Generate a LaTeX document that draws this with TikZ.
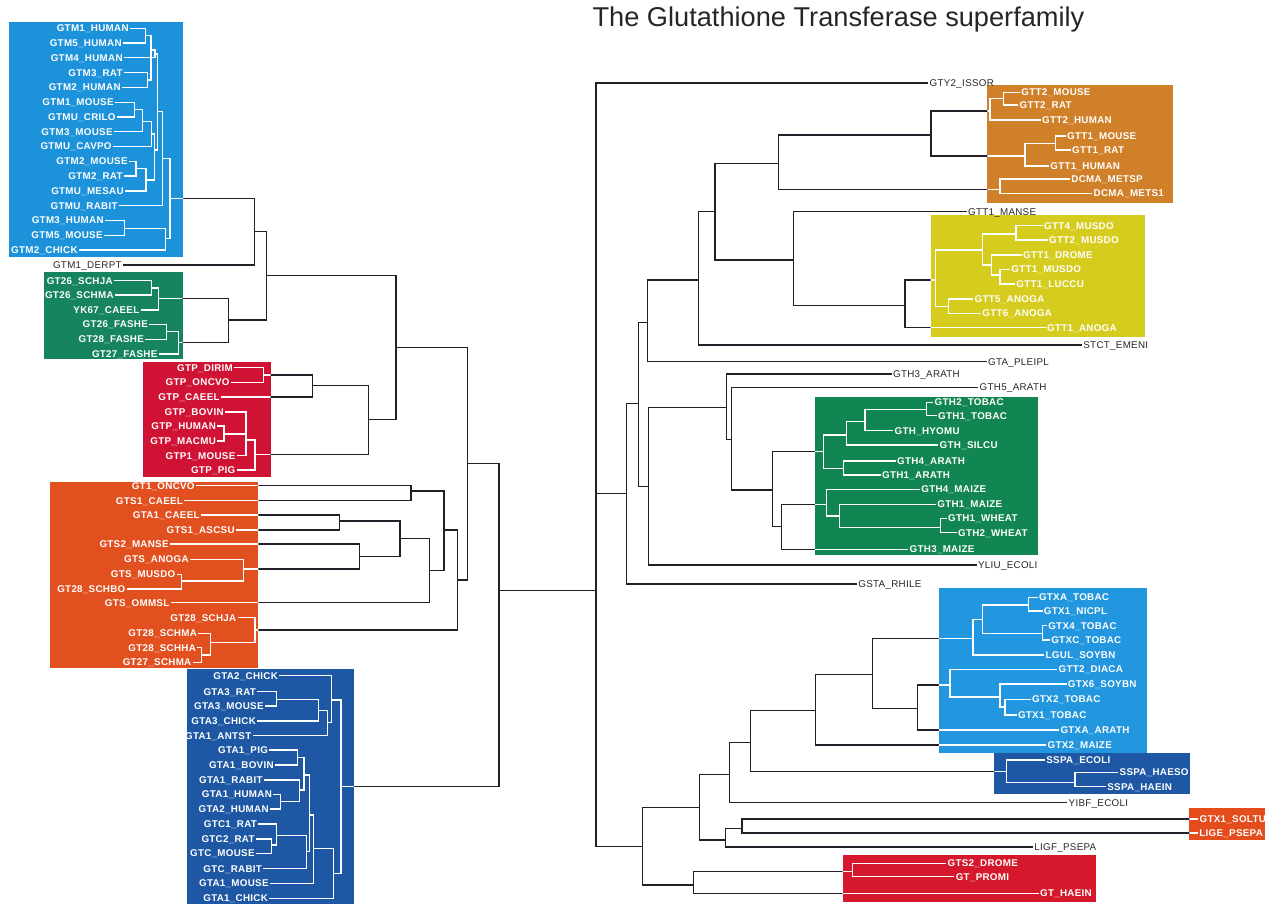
\documentclass[tikz,border=0pt]{standalone}
\usepackage{fontspec}
\setmainfont{Liberation Sans}
\newfontfamily\lblfont{Liberation Sans}[LetterSpace=3]
\definecolor{cGTM}{RGB}{28,146,218}
\definecolor{cGsix}{RGB}{22,132,92}
\definecolor{cGTP}{RGB}{208,18,52}
\definecolor{cGTS}{RGB}{226,80,32}
\definecolor{cGTA}{RGB}{30,88,164}
\definecolor{cGTT}{RGB}{208,128,40}
\definecolor{cYel}{RGB}{214,204,30}
\definecolor{cGTH}{RGB}{18,134,82}
\definecolor{cGTX}{RGB}{34,150,222}
\definecolor{cSSP}{RGB}{30,88,164}
\definecolor{cSOL}{RGB}{228,76,28}
\definecolor{cRed}{RGB}{214,24,44}
\definecolor{linec}{RGB}{35,30,40}
\newcommand\leafl[5]{\node[#1,anchor=east] (#2) at (#3,#4) {#5};}
\newcommand\leafr[5]{\node[#1,anchor=west] (#2) at (#3,#4) {#5};}
\newcommand\cpt[3]{\coordinate (#1) at (#2,#3);}
\newcommand\E[2]{\path[edge] (#1) |- (#2);}
\tikzset{
 lblw/.style={font=\lblfont\bfseries\fontsize{9.8}{11}\selectfont, text=white, inner xsep=1.2pt, inner ysep=0pt, text height=7pt, text depth=0pt},
 lblb/.style={font=\lblfont\fontsize{9.8}{11}\selectfont, text=black!85, inner xsep=1.2pt, inner ysep=0pt, text height=7pt, text depth=0pt},
}
\begin{document}
\begin{tikzpicture}[x=1pt,y=-1pt]
\useasboundingbox (0,0) rectangle (1273,904);
% boxes
\fill[cGTM] (9,22) rectangle (183,257);
\fill[cGsix] (44,271.7) rectangle (182.7,359);
\fill[cGTP] (143.3,361.7) rectangle (270.5,477);
\fill[cGTS] (50,481.7) rectangle (258.3,668.3);
\fill[cGTA] (187.3,669.3) rectangle (354,904);
\fill[cGTT] (987.3,85) rectangle (1173.3,202.7);
\fill[cYel] (930.7,215) rectangle (1145,336.7);
\fill[cGTH] (815,396.7) rectangle (1038.3,555);
\fill[cGTX] (938.9,588.3) rectangle (1147.2,752.7);
\fill[cSSP] (994.4,752.7) rectangle (1190,794);
\fill[cSOL] (1189.3,808.3) rectangle (1265,840);
\fill[cRed] (842.7,855) rectangle (1096,902);
% title
\node[font=\fontsize{27.2}{31}\selectfont, text=black!85, anchor=west] (title) at (589,19) {The Glutathione Transferase superfamily};
% ---------- left leaves
\leafl{lblw}{M1}{130}{28.3}{GTM1\_HUMAN}
\leafl{lblw}{M2}{123}{43.1}{GTM5\_HUMAN}
\leafl{lblw}{M3}{124}{57.9}{GTM4\_HUMAN}
\leafl{lblw}{M4}{124}{72.6}{GTM3\_RAT}
\leafl{lblw}{M5}{122}{87.4}{GTM2\_HUMAN}
\leafl{lblw}{M6}{115}{102.2}{GTM1\_MOUSE}
\leafl{lblw}{M7}{117}{117}{GTMU\_CRILO}
\leafl{lblw}{M8}{114}{131.8}{GTM3\_MOUSE}
\leafl{lblw}{M9}{113}{146.5}{GTMU\_CAVPO}
\leafl{lblw}{M10}{129}{161.3}{GTM2\_MOUSE}
\leafl{lblw}{M11}{124}{176.1}{GTM2\_RAT}
\leafl{lblw}{M12}{125}{190.9}{GTMU\_MESAU}
\leafl{lblw}{M13}{119}{205.6}{GTMU\_RABIT}
\leafl{lblw}{M14}{105}{220.4}{GTM3\_HUMAN}
\leafl{lblw}{M15}{104}{235.2}{GTM5\_MOUSE}
\leafl{lblw}{M16}{79}{250}{GTM2\_CHICK}
\leafl{lblb}{derpt}{123}{265}{GTM1\_DERPT}
\leafl{lblw}{ga}{114}{280.7}{GT26\_SCHJA}
\leafl{lblw}{gb}{115}{295}{GT26\_SCHMA}
\leafl{lblw}{gc}{140.7}{310}{YK67\_CAEEL}
\leafl{lblw}{gd}{149.3}{324.3}{GT26\_FASHE}
\leafl{lblw}{ge}{145.3}{339.3}{GT28\_FASHE}
\leafl{lblw}{gf}{158.7}{354}{GT27\_FASHE}
\leafl{lblw}{pa}{234.3}{367.7}{GTP\_DIRIM}
\leafl{lblw}{pb}{231}{382.3}{GTP\_ONCVO}
\leafl{lblw}{pc}{221}{397}{GTP\_CAEEL}
\leafl{lblw}{pd}{225}{412}{GTP\_BOVIN}
\leafl{lblw}{pe}{217.3}{426}{GTP\_HUMAN}
\leafl{lblw}{pf}{217.3}{441}{GTP\_MACMU}
\leafl{lblw}{pg}{236.7}{455.7}{GTP1\_MOUSE}
\leafl{lblw}{ph}{236.7}{470}{GTP\_PIG}
\leafl{lblw}{s1}{196}{485.7}{GT1\_ONCVO}
\leafl{lblw}{s2}{184.3}{500.7}{GTS1\_CAEEL}
\leafl{lblw}{s3}{201}{515}{GTA1\_CAEEL}
\leafl{lblw}{s4}{236}{530}{GTS1\_ASCSU}
\leafl{lblw}{s5}{170}{544}{GTS2\_MANSE}
\leafl{lblw}{s6}{190}{559.3}{GTS\_ANOGA}
\leafl{lblw}{s7}{176.7}{574.3}{GTS\_MUSDO}
\leafl{lblw}{s8}{126.7}{589}{GT28\_SCHBO}
\leafl{lblw}{s9}{170.7}{602.5}{GTS\_OMMSL}
\leafl{lblw}{s10}{237.7}{617.7}{GT28\_SCHJA}
\leafl{lblw}{s11}{198.3}{633.3}{GT28\_SCHMA}
\leafl{lblw}{s12}{197.3}{647.7}{GT28\_SCHHA}
\leafl{lblw}{s13}{192.7}{662.3}{GT27\_SCHMA}
\leafl{lblw}{aa1}{279.3}{675.7}{GTA2\_CHICK}
\leafl{lblw}{aa2}{257.3}{691.7}{GTA3\_RAT}
\leafl{lblw}{aa3}{265}{706}{GTA3\_MOUSE}
\leafl{lblw}{aa4}{257.3}{721}{GTA3\_CHICK}
\leafl{lblw}{aa5}{252.7}{735.7}{GTA1\_ANTST}
\leafl{lblw}{aa6}{269.3}{750}{GTA1\_PIG}
\leafl{lblw}{aa7}{275}{765}{GTA1\_BOVIN}
\leafl{lblw}{aa8}{264}{780}{GTA1\_RABIT}
\leafl{lblw}{aa9}{273.3}{794.3}{GTA1\_HUMAN}
\leafl{lblw}{aa10}{270}{809}{GTA2\_HUMAN}
\leafl{lblw}{aa11}{258.3}{824}{GTC1\_RAT}
\leafl{lblw}{aa12}{256}{839}{GTC2\_RAT}
\leafl{lblw}{aa13}{256}{853.3}{GTC\_MOUSE}
\leafl{lblw}{aa14}{263.3}{868.7}{GTC\_RABIT}
\leafl{lblw}{aa15}{270}{883.3}{GTA1\_MOUSE}
\leafl{lblw}{aa16}{269.3}{898.3}{GTA1\_CHICK}
% ---------- right leaves
\leafr{lblb}{issor}{928.3}{83}{GTY2\_ISSOR}
\leafr{lblw}{T1}{1020}{92.3}{GTT2\_MOUSE}
\leafr{lblw}{T2}{1018.3}{105}{GTT2\_RAT}
\leafr{lblw}{T3}{1040.7}{120}{GTT2\_HUMAN}
\leafr{lblw}{T4}{1065.7}{136}{GTT1\_MOUSE}
\leafr{lblw}{T5}{1070.7}{150}{GTT1\_RAT}
\leafr{lblw}{T6}{1049}{166}{GTT1\_HUMAN}
\leafr{lblw}{T7}{1070}{179}{DCMA\_METSP}
\leafr{lblw}{T8}{1092.3}{193.3}{DCMA\_METS1}
\leafr{lblb}{manse}{966.7}{211.7}{GTT1\_MANSE}
\leafr{lblw}{Y1}{1042.7}{225.7}{GTT4\_MUSDO}
\leafr{lblw}{Y2}{1047.7}{240}{GTT2\_MUSDO}
\leafr{lblw}{Y3}{1021.7}{255}{GTT1\_DROME}
\leafr{lblw}{Y4}{1010}{269.3}{GTT1\_MUSDO}
\leafr{lblw}{Y5}{1015}{284}{GTT1\_LUCCU}
\leafr{lblw}{Y6}{973.3}{299}{GTT5\_ANOGA}
\leafr{lblw}{Y7}{981}{313.3}{GTT6\_ANOGA}
\leafr{lblw}{Y8}{1045.7}{327.7}{GTT1\_ANOGA}
\leafr{lblb}{stct}{1082}{345}{STCT\_EMENI}
\leafr{lblb}{pleipl}{986.7}{361.7}{GTA\_PLEIPL}
\leafr{lblb}{gththree}{891.7}{374}{GTH3\_ARATH}
\leafr{lblb}{gthfive}{978.3}{387.3}{GTH5\_ARATH}
\leafr{lblw}{H1}{933.3}{402.3}{GTH2\_TOBAC}
\leafr{lblw}{H2}{936.7}{415.7}{GTH1\_TOBAC}
\leafr{lblw}{H3}{893.3}{430.7}{GTH\_HYOMU}
\leafr{lblw}{H4}{938.3}{445}{GTH\_SILCU}
\leafr{lblw}{H5}{895.7}{461}{GTH4\_ARATH}
\leafr{lblw}{H6}{880.7}{475}{GTH1\_ARATH}
\leafr{lblw}{H7}{920}{489.3}{GTH4\_MAIZE}
\leafr{lblw}{H8}{936}{504.3}{GTH1\_MAIZE}
\leafr{lblw}{H9}{946.7}{518.3}{GTH1\_WHEAT}
\leafr{lblw}{H10}{956.7}{532.7}{GTH2\_WHEAT}
\leafr{lblw}{H11}{908.3}{549.3}{GTH3\_MAIZE}
\leafr{lblb}{yliu}{976.7}{565}{YLIU\_ECOLI}
\leafr{lblb}{gsta}{857}{584}{GSTA\_RHILE}
\leafr{lblw}{X1}{1037.6}{597.3}{GTXA\_TOBAC}
\leafr{lblw}{X2}{1042.5}{611}{GTX1\_NICPL}
\leafr{lblw}{X3}{1046.9}{625.7}{GTX4\_TOBAC}
\leafr{lblw}{X4}{1049.9}{640}{GTXC\_TOBAC}
\leafr{lblw}{X5}{1044.3}{655}{LGUL\_SOYBN}
\leafr{lblw}{X6}{1057.3}{669.3}{GTT2\_DIACA}
\leafr{lblw}{X7}{1066.5}{684}{GTX6\_SOYBN}
\leafr{lblw}{X8}{1030.6}{699.3}{GTX2\_TOBAC}
\leafr{lblw}{X9}{1016.6}{715}{GTX1\_TOBAC}
\leafr{lblw}{X10}{1059.1}{730}{GTXA\_ARATH}
\leafr{lblw}{X11}{1046.2}{745}{GTX2\_MAIZE}
\leafr{lblw}{S1}{1045}{760}{SSPA\_ECOLI}
\leafr{lblw}{S2}{1118.3}{772.3}{SSPA\_HAESO}
\leafr{lblw}{S3}{1106}{786.7}{SSPA\_HAEIN}
\leafr{lblb}{yibf}{1067.3}{802.5}{YIBF\_ECOLI}
\leafr{lblw}{soltu}{1198.3}{819}{GTX1\_SOLTU}
\leafr{lblw}{lige}{1198}{833}{LIGE\_PSEPA}
\leafr{lblb}{ligf}{1033}{847}{LIGF\_PSEPA}
\leafr{lblw}{D1}{946.3}{863.3}{GTS2\_DROME}
\leafr{lblw}{D2}{954.4}{876.7}{GT\_PROMI}
\leafr{lblw}{D3}{1038.7}{893.3}{GT\_HAEIN}
% ---------- internal points, left
\cpt{nMa}{145.5}{35.7}\cpt{nMb}{147.5}{80}\cpt{nMc}{151}{50}\cpt{nMd}{155}{54}
\cpt{nMe}{134.3}{109.3}\cpt{nMf}{142.7}{121.7}\cpt{nMg}{151.7}{134}
\cpt{nMh}{136}{168.7}\cpt{nMi}{146}{180}\cpt{nMj}{154.3}{150}
\cpt{nMk}{157.5}{111.7}\cpt{nMl}{162.3}{158.3}\cpt{nMm}{124.3}{228.3}
\cpt{nMn}{165.7}{238.3}\cpt{nMo}{170}{198.3}
\cpt{La}{254.3}{231.7}
\cpt{Ga}{151.7}{288}\cpt{Gb}{158.3}{298.3}\cpt{Gc}{166.7}{331.7}\cpt{Gd}{178.3}{342.3}\cpt{Ge}{228.3}{320}
\cpt{Lb}{266.7}{275.7}
\cpt{Pa}{263.3}{375}\cpt{Pb}{312.7}{385.7}\cpt{Pc}{224}{434}\cpt{Pd}{246}{440}\cpt{Pe}{255}{454.3}\cpt{Pf}{368.3}{419.3}
\cpt{Lc}{396}{347.3}
\cpt{Oa}{411}{491}\cpt{Ob}{339.3}{521}\cpt{Od}{181.7}{581}\cpt{Oe}{243.3}{569}\cpt{Oc}{359.3}{556.7}
\cpt{Of}{400}{538.3}\cpt{Og}{429.3}{570.7}\cpt{Oh}{444}{530}
\cpt{Oi}{201.7}{655}\cpt{Oj}{210.7}{642.7}\cpt{Ok}{255}{630}\cpt{Ol}{457.3}{580}
\cpt{Ld}{467.3}{463.3}
\cpt{Aa}{276.7}{699.3}\cpt{Ab}{318.3}{710.3}\cpt{Ac}{327.3}{722.7}\cpt{Ad}{331.7}{700}
\cpt{Ae}{297.3}{757.3}\cpt{Af}{280.7}{801.7}\cpt{Ag}{299.7}{790}\cpt{Ah}{304}{775}
\cpt{Aia}{271.7}{845}\cpt{Ai}{276.7}{835.7}\cpt{Aj}{306.7}{851.7}\cpt{Ak}{309.3}{815}
\cpt{Al}{313.3}{848.3}\cpt{Am}{333.3}{873.3}\cpt{AR}{341}{786.7}
\cpt{Le}{499}{590.7}
\cpt{root}{596}{590.7}
% ---------- internal points, right
\cpt{Ta}{1003.3}{98.3}\cpt{Tb}{990}{111}\cpt{Tc}{1055.7}{143.3}\cpt{Td}{1025}{156}
\cpt{Rf}{931}{135}\cpt{Te}{1000}{189.3}\cpt{Re}{778.3}{163.3}
\cpt{Ya}{1016}{234}\cpt{Yb}{1000}{275}\cpt{Yc}{991.7}{265}\cpt{Yd}{982.7}{250}
\cpt{Ye}{948.3}{306.7}\cpt{Yf}{935.7}{280}\cpt{Rg}{905}{305.7}
\cpt{Rm}{793.3}{260}\cpt{Rd}{715}{211.7}\cpt{Rc}{698.3}{280}\cpt{Rb}{647.3}{322.3}
\cpt{Ha}{926.7}{409.3}\cpt{Hb}{865}{421.7}\cpt{Hc}{846.7}{435}\cpt{Hd}{843.3}{468.3}
\cpt{He}{823.3}{451.7}\cpt{Hf}{940.7}{527.7}\cpt{Hg}{839.3}{516}\cpt{Hh}{826.7}{504.3}
\cpt{Rl}{781.7}{526.7}\cpt{Rk}{772.7}{490}\cpt{Rj}{731.7}{439.3}\cpt{Ri}{726.7}{407.7}
\cpt{Rh}{648.3}{486.7}\cpt{Ra}{638.3}{403.3}\cpt{Rmid}{626.7}{493.3}
\cpt{Xa}{1028.4}{605}\cpt{Xb}{1042.5}{633.3}\cpt{Xc}{982.2}{619.3}\cpt{Xd}{972.9}{638.3}
\cpt{Xe}{1005}{707}\cpt{Xf}{1000}{697}\cpt{Xg}{950}{685}\cpt{Xh}{917.4}{708.3}
\cpt{Xi}{872.3}{674.3}\cpt{Xj}{815.7}{710.7}
\cpt{Sa}{1075}{782.7}\cpt{Sb}{1006.7}{771.7}
\cpt{Qc}{750.9}{742.3}\cpt{Qb}{729.9}{774.3}\cpt{Qf}{742}{828.3}\cpt{Qe}{725.4}{840}\cpt{Qa}{699.1}{807.7}
\cpt{Da}{852.7}{871.7}\cpt{Db}{693.6}{885}\cpt{Rbot}{642.9}{846.7}
% ---------- edges
\def\alledges{%
\E{nMa}{M1}\E{nMa}{M2}\E{nMb}{M4}\E{nMb}{M5}\E{nMc}{nMa}\E{nMc}{nMb}\E{nMd}{nMc}\E{nMd}{M3}
\E{nMe}{M6}\E{nMe}{M7}\E{nMf}{nMe}\E{nMf}{M8}\E{nMg}{nMf}\E{nMg}{M9}
\E{nMh}{M10}\E{nMh}{M11}\E{nMi}{nMh}\E{nMi}{M12}\E{nMj}{nMg}\E{nMj}{nMi}
\E{nMk}{nMd}\E{nMk}{nMj}\E{nMl}{nMk}\E{nMl}{M13}\E{nMm}{M14}\E{nMm}{M15}
\E{nMn}{nMm}\E{nMn}{M16}\E{nMo}{nMl}\E{nMo}{nMn}
\E{La}{nMo}\E{La}{derpt}
\E{Ga}{ga}\E{Ga}{gb}\E{Gb}{Ga}\E{Gb}{gc}\E{Gc}{gd}\E{Gc}{ge}\E{Gd}{Gc}\E{Gd}{gf}\E{Ge}{Gb}\E{Ge}{Gd}
\E{Lb}{La}\E{Lb}{Ge}
\E{Pa}{pa}\E{Pa}{pb}\E{Pb}{Pa}\E{Pb}{pc}\E{Pc}{pe}\E{Pc}{pf}\E{Pd}{pd}\E{Pd}{Pc}\E{Pd}{pg}
\E{Pe}{Pd}\E{Pe}{ph}\E{Pf}{Pb}\E{Pf}{Pe}
\E{Lc}{Lb}\E{Lc}{Pf}
\E{Oa}{s1}\E{Oa}{s2}\E{Ob}{s3}\E{Ob}{s4}\E{Od}{s7}\E{Od}{s8}\E{Oe}{s6}\E{Oe}{Od}
\E{Oc}{s5}\E{Oc}{Oe}\E{Of}{Ob}\E{Of}{Oc}\E{Og}{Of}\E{Og}{s9}\E{Oh}{Oa}\E{Oh}{Og}
\E{Oi}{s12}\E{Oi}{s13}\E{Oj}{s11}\E{Oj}{Oi}\E{Ok}{s10}\E{Ok}{Oj}\E{Ol}{Oh}\E{Ol}{Ok}
\E{Ld}{Lc}\E{Ld}{Ol}
\E{Aa}{aa2}\E{Aa}{aa3}\E{Ab}{Aa}\E{Ab}{aa4}\E{Ac}{Ab}\E{Ac}{aa5}\E{Ad}{aa1}\E{Ad}{Ac}
\E{Ae}{aa6}\E{Ae}{aa7}\E{Af}{aa9}\E{Af}{aa10}\E{Ag}{aa8}\E{Ag}{Af}\E{Ah}{Ae}\E{Ah}{Ag}
\E{Aia}{aa12}\E{Aia}{aa13}\E{Ai}{aa11}\E{Ai}{Aia}\E{Aj}{Ai}\E{Aj}{aa14}\E{Ak}{Ah}\E{Ak}{Aj}
\E{Al}{Ak}\E{Al}{aa15}\E{Am}{Al}\E{Am}{aa16}\E{AR}{Ad}\E{AR}{Am}
\E{Le}{Ld}\E{Le}{AR}
\E{root}{Le}\E{root}{issor}\E{root}{Rmid}\E{root}{Rbot}
\E{Ta}{T1}\E{Ta}{T2}\E{Tb}{Ta}\E{Tb}{T3}\E{Tc}{T4}\E{Tc}{T5}\E{Td}{Tc}\E{Td}{T6}
\E{Rf}{Tb}\E{Rf}{Td}\E{Te}{T7}\E{Te}{T8}\E{Re}{Rf}\E{Re}{Te}
\E{Ya}{Y1}\E{Ya}{Y2}\E{Yb}{Y4}\E{Yb}{Y5}\E{Yc}{Y3}\E{Yc}{Yb}\E{Yd}{Ya}\E{Yd}{Yc}
\E{Ye}{Y6}\E{Ye}{Y7}\E{Yf}{Yd}\E{Yf}{Ye}\E{Rg}{Yf}\E{Rg}{Y8}
\E{Rm}{manse}\E{Rm}{Rg}\E{Rd}{Re}\E{Rd}{Rm}\E{Rc}{Rd}\E{Rc}{stct}\E{Rb}{Rc}\E{Rb}{pleipl}
\E{Ha}{H1}\E{Ha}{H2}\E{Hb}{Ha}\E{Hb}{H3}\E{Hc}{Hb}\E{Hc}{H4}\E{Hd}{H5}\E{Hd}{H6}
\E{He}{Hc}\E{He}{Hd}\E{Hf}{H9}\E{Hf}{H10}\E{Hg}{H8}\E{Hg}{Hf}\E{Hh}{H7}\E{Hh}{Hg}
\E{Rl}{Hh}\E{Rl}{H11}\E{Rk}{He}\E{Rk}{Rl}\E{Rj}{gthfive}\E{Rj}{Rk}\E{Ri}{gththree}\E{Ri}{Rj}
\E{Rh}{Ri}\E{Rh}{yliu}\E{Ra}{Rb}\E{Ra}{Rh}\E{Rmid}{Ra}\E{Rmid}{gsta}
\E{Xa}{X1}\E{Xa}{X2}\E{Xb}{X3}\E{Xb}{X4}\E{Xc}{Xa}\E{Xc}{Xb}\E{Xd}{Xc}\E{Xd}{X5}
\E{Xe}{X8}\E{Xe}{X9}\E{Xf}{X7}\E{Xf}{Xe}\E{Xg}{X6}\E{Xg}{Xf}\E{Xh}{Xg}\E{Xh}{X10}
\E{Xi}{Xd}\E{Xi}{Xh}\E{Xj}{Xi}\E{Xj}{X11}
\E{Sa}{S2}\E{Sa}{S3}\E{Sb}{S1}\E{Sb}{Sa}
\E{Qc}{Xj}\E{Qc}{Sb}\E{Qb}{Qc}\E{Qb}{yibf}\E{Qf}{soltu}\E{Qf}{lige}\E{Qe}{Qf}\E{Qe}{ligf}
\E{Qa}{Qb}\E{Qa}{Qe}
\E{Da}{D1}\E{Da}{D2}\E{Db}{Da}\E{Db}{D3}\E{Rbot}{Qa}\E{Rbot}{Db}
}
\begin{scope}[edge/.style={draw=linec,line width=1.1pt}]
\alledges
\end{scope}
\begin{scope}
\clip (9,22) rectangle (183,257) (44,271.7) rectangle (182.7,359)
 (143.3,361.7) rectangle (270.5,477) (50,481.7) rectangle (258.3,668.3)
 (187.3,669.3) rectangle (354,904) (987.3,85) rectangle (1173.3,202.7)
 (930.7,215) rectangle (1145,336.7) (815,396.7) rectangle (1038.3,555)
 (938.9,588.3) rectangle (1147.2,752.7) (994.4,752.7) rectangle (1190,794)
 (1189.3,808.3) rectangle (1265,840) (842.7,855) rectangle (1096,902);
\begin{scope}[edge/.style={draw=white,line width=1.2pt}]
\alledges
\end{scope}
\end{scope}
\end{tikzpicture}
\end{document}
